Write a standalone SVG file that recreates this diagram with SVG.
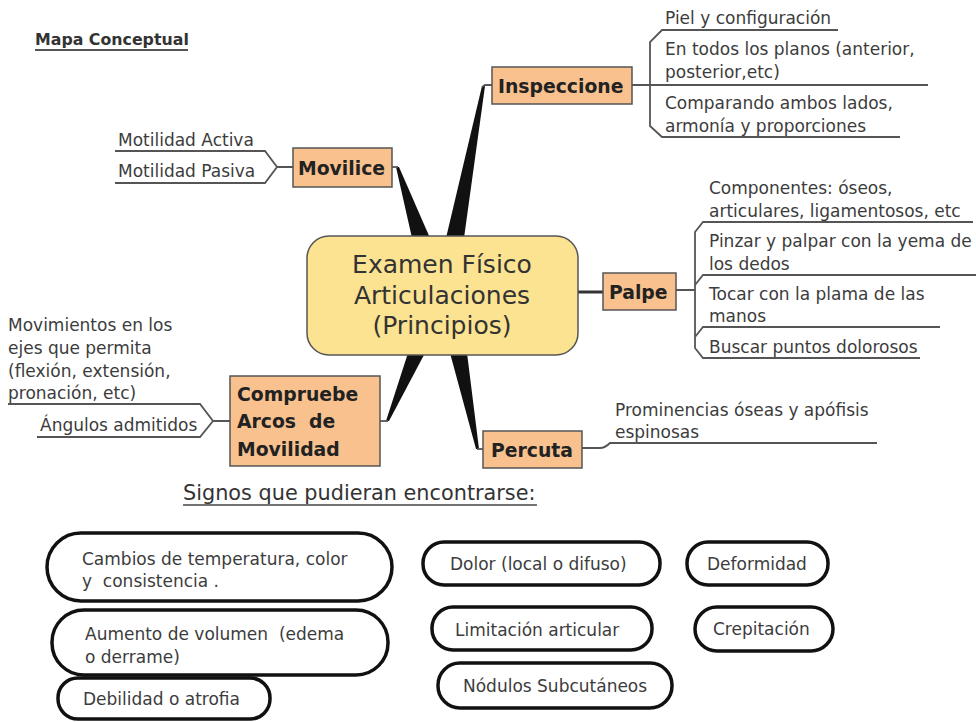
<svg xmlns="http://www.w3.org/2000/svg" width="976" height="722" viewBox="0 0 976 722">
<style>
.t{font-family:"DejaVu Sans","Liberation Sans",sans-serif;font-size:17px;fill:#3c3c3c}
.nb{fill:#f8c18e;stroke:#555;stroke-width:1.5}
.nt{font-family:"DejaVu Sans","Liberation Sans",sans-serif;font-size:18.8px;font-weight:bold;fill:#222}
.ln{fill:none;stroke:#555;stroke-width:1.8}
.sp{fill:#111}
.ov{fill:#fff;stroke:#111;stroke-width:3.5}
.ct{font-family:"DejaVu Sans","Liberation Sans",sans-serif;font-size:25px;fill:#333;text-anchor:middle}
</style>
<rect width="976" height="722" fill="#fff"/>
<g id="title">
<text x="35" y="45" style="font-family:'DejaVu Sans','Liberation Sans',sans-serif;font-size:15.8px;font-weight:bold;fill:#333">Mapa Conceptual</text>
<line x1="35" y1="50" x2="188" y2="50" stroke="#555" stroke-width="2"/>
</g>
<g id="connectors">
<polygon class="sp" points="446,238 464,238 485,86 482,86"/>
<polyline class="ln" points="482,87 485,85 492,85"/>
<polygon class="sp" points="396,167 399,167 430,238 412,238"/>
<line class="ln" x1="392" y1="167" x2="398" y2="167"/>
<polygon class="sp" points="408,353 425,353 389,421 386,421"/>
<line class="ln" x1="380" y1="421" x2="388" y2="421"/>
<polygon class="sp" points="450,353 467,353 479,449 476,449"/>
<line class="ln" x1="477" y1="449" x2="483" y2="449"/>
<line x1="578" y1="292" x2="603" y2="292" stroke="#333" stroke-width="3"/>
<path class="ln" d="M632,85 H650 M838,30 H662 L650,42 V126 L662,137 H900 M650,85 H928"/>
<path class="ln" d="M676,290 H695 M973,222 H703 L695,232 V348 L703,358 H920 M695,285 L703,275 H976 M695,337 L703,327 H940"/>
<path class="ln" d="M115,151 H265 L277,167 L265,183 H115 M277,167 H293"/>
<path class="ln" d="M8,404 H200 L213,421 L200,437 H37 M213,421 H230"/>
<path class="ln" d="M582,448 H600 Q605,448 610,443 H877"/>
</g>
<g id="center">
<rect x="307" y="236" width="271" height="119" rx="22" fill="#fbe391" stroke="#555" stroke-width="1.5"/>
<text class="ct" x="442" y="273">Examen Físico</text>
<text class="ct" x="442" y="304">Articulaciones</text>
<text class="ct" x="442" y="334">(Principios)</text>
</g>
<g id="inspeccione">
<rect class="nb" x="492" y="67" width="140" height="37"/>
<text class="nt" x="498" y="93">Inspeccione</text>
<text class="t" x="665" y="24">Piel y configuración</text>
<text class="t" x="665" y="55">En todos los planos (anterior,</text>
<text class="t" x="665" y="78">posterior,etc)</text>
<text class="t" x="665" y="109">Comparando ambos lados,</text>
<text class="t" x="665" y="132">armonía y proporciones</text>
</g>
<g id="movilice">
<rect class="nb" x="293" y="148" width="99" height="39"/>
<text class="nt" x="298" y="175">Movilice</text>
<text class="t" x="118" y="146">Motilidad Activa</text>
<text class="t" x="118" y="177">Motilidad Pasiva</text>
</g>
<g id="palpe">
<rect class="nb" x="603" y="273" width="73" height="37"/>
<text class="nt" x="609" y="299">Palpe</text>
<text class="t" x="709" y="194">Componentes: óseos,</text>
<text class="t" x="709" y="217">articulares, ligamentosos, etc</text>
<text class="t" x="709" y="247">Pinzar y palpar con la yema de</text>
<text class="t" x="709" y="270">los dedos</text>
<text class="t" x="709" y="300">Tocar con la plama de las</text>
<text class="t" x="709" y="322">manos</text>
<text class="t" x="709" y="353">Buscar puntos dolorosos</text>
</g>
<g id="compruebe">
<rect class="nb" x="230" y="376" width="150" height="90"/>
<text class="nt" x="237" y="401">Compruebe</text>
<text class="nt" x="237" y="428" xml:space="preserve">Arcos  de</text>
<text class="nt" x="237" y="456">Movilidad</text>
<text class="t" x="8" y="331">Movimientos en los</text>
<text class="t" x="8" y="354">ejes que permita</text>
<text class="t" x="8" y="377">(flexión, extensión,</text>
<text class="t" x="8" y="399">pronación, etc)</text>
<text class="t" x="40" y="431">Ángulos admitidos</text>
</g>
<g id="percuta">
<rect class="nb" x="483" y="431" width="99" height="37"/>
<text class="nt" x="491" y="457">Percuta</text>
<text class="t" x="615" y="416">Prominencias óseas y apófisis</text>
<text class="t" x="615" y="438">espinosas</text>
</g>
<g id="signos">
<text x="183" y="500" style="font-family:'DejaVu Sans','Liberation Sans',sans-serif;font-size:20.8px;fill:#333">Signos que pudieran encontrarse:</text>
<line x1="183" y1="505" x2="537" y2="505" stroke="#444" stroke-width="1.5"/>
</g>
<g id="cambios">
<rect class="ov" x="47" y="533" width="345" height="68" rx="34"/>
<text class="t" x="82" y="565">Cambios de temperatura, color</text>
<text class="t" x="82" y="587" xml:space="preserve">y  consistencia .</text>
</g>
<g id="aumento">
<rect class="ov" x="52" y="610" width="336" height="65" rx="32"/>
<text class="t" x="85" y="640" xml:space="preserve">Aumento de volumen  (edema</text>
<text class="t" x="85" y="663">o derrame)</text>
</g>
<g id="debilidad">
<rect class="ov" x="58" y="678" width="212" height="41" rx="20"/>
<text class="t" x="83" y="705">Debilidad o atrofia</text>
</g>
<g id="dolor">
<rect class="ov" x="423" y="542" width="237" height="43" rx="21"/>
<text class="t" x="450" y="570">Dolor (local o difuso)</text>
</g>
<g id="deformidad">
<rect class="ov" x="687" y="542" width="141" height="43" rx="21"/>
<text class="t" x="707" y="570">Deformidad</text>
</g>
<g id="limitacion">
<rect class="ov" x="432" y="607" width="220" height="43" rx="21"/>
<text class="t" x="455" y="636">Limitación articular</text>
</g>
<g id="crepitacion">
<rect class="ov" x="695" y="607" width="138" height="44" rx="22"/>
<text class="t" x="713" y="635">Crepitación</text>
</g>
<g id="nodulos">
<rect class="ov" x="438" y="663" width="234" height="45" rx="22"/>
<text class="t" x="463" y="692">Nódulos Subcutáneos</text>
</g>
</svg>
